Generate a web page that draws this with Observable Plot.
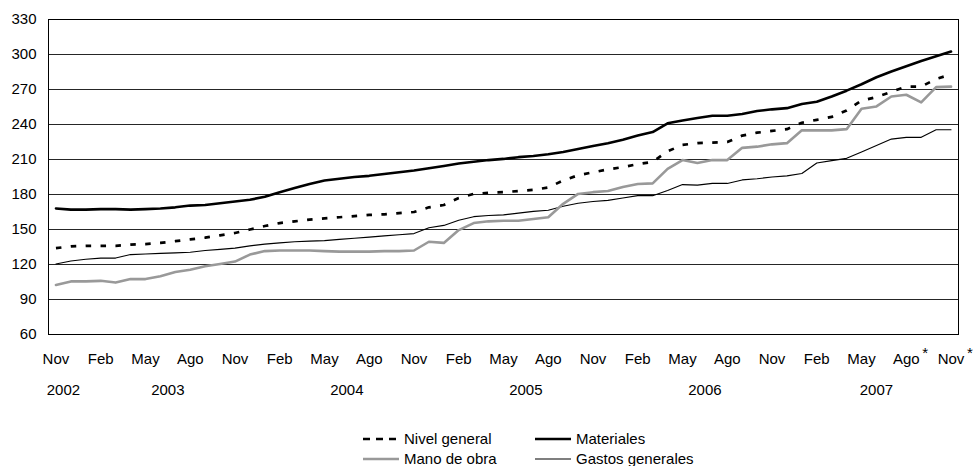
<!DOCTYPE html>
<html><head><meta charset="utf-8">
<script src="https://cdn.jsdelivr.net/npm/d3@7"></script>
<script src="https://cdn.jsdelivr.net/npm/@observablehq/plot@0.6"></script>
<style>
body{margin:0;background:#fff;font-family:"Liberation Sans",Arial,sans-serif;}
#wrap{position:relative;width:973px;height:466px;background:#fff;}
.leg{position:absolute;display:flex;align-items:center;font-size:15px;line-height:18px;color:#000;white-space:nowrap;}
.leg svg{margin-right:5px;display:block;}
</style></head><body><div id="wrap"></div>
<script>
// ---- data ----
const monthAbbr = ["Ene","Feb","Mar","Abr","May","Jun","Jul","Ago","Sep","Oct","Nov","Dic"];
const startYear = 2002, startMonth = 10, nMonths = 61; // Nov 2002 .. Nov 2007
const tickMonths = ["Nov","Feb","May","Ago"];
const yearLabels = ["2002","2003","2004","2005","2006","2007"];
const starredMonths = ["Ago 2007","Nov 2007"];
const yTicks = [60,90,120,150,180,210,240,270,300,330];

const nivelGeneral = [134,135.5,136,136,136,137,137.5,138.5,140,141.5,143,145,147,150,153,155.5,157,158.5,159.5,160.5,161.5,162.5,163,164,165,169,171,177,180.5,181.5,182,183,184,186,192,196.5,199,201.5,203.5,206,208,217,222.5,224,224.5,225,230.5,233,234.5,236,241.5,244,246.5,252,260.5,263.5,268,272.5,272.5,279,283];
const materiales = [168,167,167,167.5,167.5,167,167.5,168,169,170.5,171,172.5,174,175.5,178,182,185.5,189,192,193.5,195,196,197.5,199,200.5,202.5,204.5,206.5,208,209.5,210.5,212,213,214.5,216.5,219,221.5,224,227,230.5,233.5,241,243.5,245.5,247.5,247.5,249,251.5,253,254,257.5,259.5,264,269,274.5,280.5,285.5,290,294.5,298.5,302.5];
const manoDeObra = [102.5,105.5,105.5,106,104.5,107.5,107.5,110,113.5,115.5,118.5,120.5,122.5,128.5,131.5,132,132,132,131.5,131,131,131,131.5,131.5,132,139.5,138.5,149.5,155.5,157,157.5,157.5,159,160.5,172,180.5,182,183,186.5,189,189.5,202,209.5,207,209.5,209.5,220,221,223,224,235,235,235,236,253.5,255.5,264,265.5,259,272,272.5];
const gastosGenerales = [120.5,123,124.5,125.5,125.5,128.5,129,129.5,130,130.5,132,133,134,136,137.5,138.5,139.5,140,140.5,141.5,142.5,143.5,144.5,145.5,146.5,151.5,153.5,158,161,162,162.5,164,165.5,166.5,170,172.5,174,175,177,179,179,183.5,188.5,188,189.5,189.5,192.5,193.5,195,196,198,207,209,211,216.5,222,227.5,229,229,235.5,235.5];

// ---- derived tables ----
const categories = d3.range(nMonths).map(k => {
  const m = (startMonth + k) % 12;
  const y = startYear + Math.floor((startMonth + k) / 12);
  return {i: k, month: monthAbbr[m], year: String(y), label: monthAbbr[m] + " " + y};
});
const xTicks = categories.filter(c => tickMonths.includes(c.month)).map(c => c.i);
const years = yearLabels.map(y => {
  const idx = categories.filter(c => c.year === y).map(c => c.i);
  return {year: y, center: d3.mean(idx)};
});
const yearByCenter = new Map(years.map(d => [d.center, d.year]));
const starred = categories.filter(c => starredMonths.includes(c.label));

const font = "'Liberation Sans', Arial, sans-serif";
const chart = Plot.plot({
  width: 973, height: 405,
  marginLeft: 48, marginRight: 15, marginTop: 19, marginBottom: 71,
  style: {fontFamily: font, fontSize: "15px", color: "#000", background: "#fff", overflow: "visible"},
  x: {type: "linear", domain: [-0.5, nMonths - 0.5]},
  y: {domain: [60, 330]},
  marks: [
    Plot.gridY(yTicks, {stroke: "#000", strokeOpacity: 0.85, strokeWidth: 1}),
    Plot.frame({stroke: "#000", strokeWidth: 1}),
    Plot.line(gastosGenerales, {x: (d, i) => i, y: d => d, stroke: "#000", strokeWidth: 1.1, strokeLinejoin: "round"}),
    Plot.line(manoDeObra, {x: (d, i) => i, y: d => d, stroke: "#999", strokeWidth: 2.6, strokeLinejoin: "round"}),
    Plot.line(materiales, {x: (d, i) => i, y: d => d, stroke: "#000", strokeWidth: 2.6, strokeLinejoin: "round"}),
    Plot.line(nivelGeneral, {x: (d, i) => i, y: d => d, stroke: "#000", strokeWidth: 2.7, strokeDasharray: "5.5,9.4", strokeLinecap: "butt"}),
    Plot.axisY(yTicks, {tickSize: 0, tickPadding: 12, fontSize: 15, label: null}),
    Plot.axisX(xTicks, {tickSize: 0, tickPadding: 19, fontSize: 15, label: null, tickFormat: i => categories[i].month}),
    Plot.axisX(years.map(d => d.center), {tickSize: 0, tickPadding: 50, fontSize: 15, label: null, tickFormat: v => yearByCenter.get(v)}),
    Plot.text(starred, {x: "i", text: () => "*", frameAnchor: "bottom", lineAnchor: "top", dy: 13, dx: 19, fontSize: 15})
  ]
});
const wrap = document.getElementById("wrap");
wrap.appendChild(chart);

// ---- legend ----
const legendItems = [
  {name: "Nivel general", stroke: "#000", width: 2.7, dash: "7,6", left: 363, top: 430},
  {name: "Materiales", stroke: "#000", width: 2.6, dash: null, left: 535, top: 430},
  {name: "Mano de obra", stroke: "#999", width: 2.6, dash: null, left: 363, top: 450},
  {name: "Gastos generales", stroke: "#000", width: 1.1, dash: null, left: 535, top: 450}
];
for (const it of legendItems) {
  const div = document.createElement("div");
  div.className = "leg";
  div.style.left = it.left + "px";
  div.style.top = it.top + "px";
  div.innerHTML = `<svg width="36" height="10"><line x1="0" x2="36" y1="5" y2="5" stroke="${it.stroke}" stroke-width="${it.width}" ${it.dash ? `stroke-dasharray="${it.dash}"` : ""}/></svg><span>${it.name}</span>`;
  wrap.appendChild(div);
}
</script></body></html>
